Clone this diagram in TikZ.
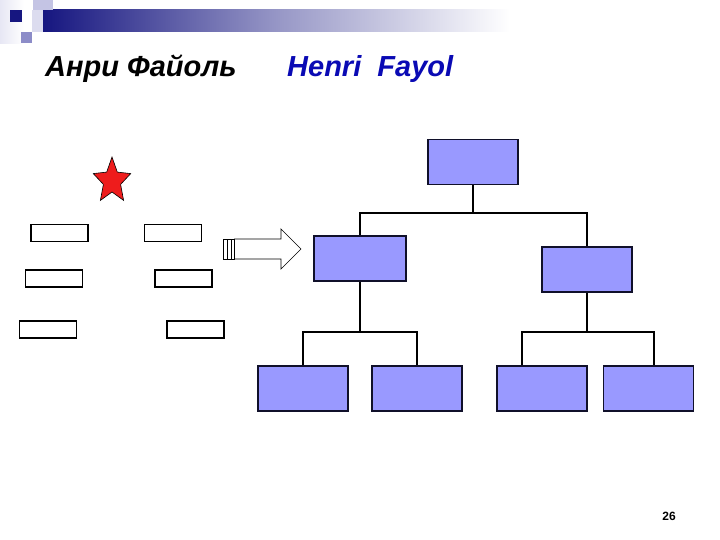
\documentclass[tikz,border=0pt]{standalone}
\usepackage{fontspec}
\setmainfont{Liberation Sans}
\usetikzlibrary{calc}
\definecolor{boxfill}{HTML}{9999FF}
\definecolor{boxline}{HTML}{10102A}
\definecolor{navy}{HTML}{161680}
\definecolor{lav}{HTML}{C4C4E4}
\definecolor{lavmid}{HTML}{8C8CC8}
\definecolor{titleblue}{HTML}{0A0AB4}
\definecolor{starred}{HTML}{EE1C1C}
\tikzset{
  orgbox/.style={draw=boxline, fill=boxfill, line width=1.3pt, inner sep=0pt, minimum width=90pt, minimum height=45pt},
  smallbox/.style={draw=black, fill=white, line width=1.1pt, inner sep=0pt, minimum width=57pt, minimum height=17pt},
  conn/.style={draw=black, line width=1.2pt},
  titletext/.style={inner sep=0pt, font=\bfseries\itshape\fontsize{29}{31}\selectfont},
}
\begin{document}
\begin{tikzpicture}[x=1pt,y=-1pt]
\useasboundingbox (0,0) rectangle (720,540);
\fill[white] (0,0) rectangle (720,540);
% header decoration
\shade[left color=lav!40, right color=white, shading angle=90] (0,0) rectangle (24,44);
\shade[left color=navy, right color=white, middle color=navy!45] (43,10) rectangle (510,32);
\fill[lav] (33,0) rectangle (53,10);
\fill[lav!60] (32,10) rectangle (43,32);
\fill[lavmid] (21,32) rectangle (32,43);
\fill[navy] (10,10) rectangle (22,22);
% titles
\node[titletext, anchor=base west] (ru) at (45,77) {Анри Файоль};
\node[titletext, anchor=base west, text=titleblue] (en) at (287,77) {Henri\ \ Fayol};
% star
\draw[fill=starred, draw=black, line width=0.6pt, line join=miter]
  (112,157) -- (117.3,172.1) -- (130.7,173.6) -- (120.6,184.4) -- (123.6,200.4)
  -- (112,192) -- (100.4,200.4) -- (103.4,184.4) -- (93.3,173.6) -- (106.7,172.1) -- cycle;
% small boxes
\node[smallbox] (r1) at (59.5,233) {};
\node[smallbox] (r2) at (173,233) {};
\node[smallbox] (r3) at (54,278.5) {};
\node[smallbox] (r4) at (183.5,278.5) {};
\node[smallbox] (r5) at (48,329.5) {};
\node[smallbox] (r6) at (195.5,329.5) {};
% block arrow
\draw[black, line width=0.7pt, fill=white] (223,239) rectangle (227,259);
\draw[black, line width=0.7pt, fill=white] (227,239) rectangle (231,259);
\draw[black, line width=0.7pt, fill=white] (231,239) rectangle (234.5,259);
\draw[black, line width=0.7pt, fill=white, line join=miter]
  (234.5,239) -- (281,239) -- (281,229) -- (301,249) -- (281,269) -- (281,259) -- (234.5,259) -- cycle;
% org chart
\node[orgbox] (top) at (473,162) {};
\node[orgbox, minimum width=92pt] (ml) at (360,258.5) {};
\node[orgbox] (mr) at (587,269.5) {};
\node[orgbox] (b1) at (303,388.5) {};
\node[orgbox] (b2) at (417,388.5) {};
\node[orgbox] (b3) at (542,388.5) {};
\node[orgbox] (b4) at (648.5,388.5) {};
\coordinate (j1) at (473,213);
\coordinate (j2) at (360,332);
\coordinate (j3) at (587,332);
\coordinate (d3) at ([xshift=-20pt]b3.north);
\coordinate (d4) at ([xshift=5.5pt]b4.north);
\draw[conn] (top.south) -- (j1);
\draw[conn] (ml.north) -- (ml.north |- j1) -- (mr.north |- j1) -- (mr.north);
\draw[conn] (ml.south) -- (j2);
\draw[conn] (b1.north) -- (b1.north |- j2) -- (b2.north |- j2) -- (b2.north);
\draw[conn] (mr.south) -- (j3);
\draw[conn] (d3) -- (d3 |- j3) -- (d4 |- j3) -- (d4);
% page number
\node[inner sep=0pt, font=\bfseries\fontsize{12}{14}\selectfont] (pg) at (669,516) {26};
\end{tikzpicture}
\end{document}
